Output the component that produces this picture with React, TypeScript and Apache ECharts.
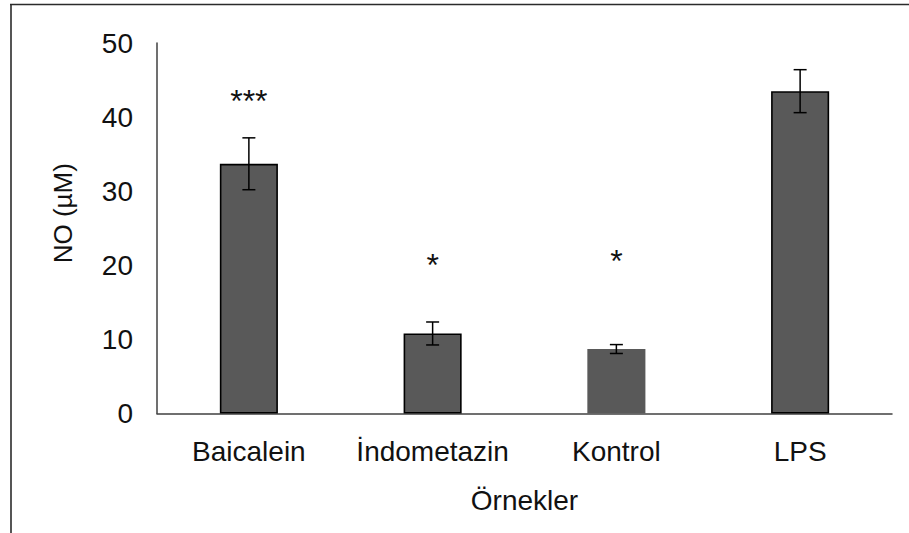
import React, { useEffect, useRef } from "react";
import * as echarts from "echarts";

const categories = ["Baicalein", "İndometazin", "Kontrol", "LPS"];
const means = [33.7, 10.8, 8.7, 43.5];
const errors = [3.5, 1.55, 0.6, 2.9];
const sigMarks = ["***", "*", "*", ""];
const sigLevels = [42.2, 20.0, 20.6, 0];
const yTicks = { min: 0, max: 50, interval: 10 };
const xAxisName = "Örnekler";
const yAxisName = "NO (µM)";
const unoutlinedCategory = "Kontrol";

const FONT = "Liberation Sans, Arial, sans-serif";

export default function App() {
  const ref = useRef<HTMLDivElement>(null);
  useEffect(() => {
    if (!ref.current) return;
    const chart = echarts.init(ref.current, undefined, { renderer: "svg" });
    const option: any = {
      animation: false,
      backgroundColor: "#ffffff",
      textStyle: { fontFamily: FONT },
      grid: { left: 157, right: 17, top: 43, bottom: 119.5, containLabel: false },
      graphic: [
        { type: "line", shape: { x1: 10, y1: 4.5, x2: 909, y2: 4.5 }, style: { stroke: "#2b2b2b", lineWidth: 1.6 } },
        { type: "line", shape: { x1: 11, y1: 4, x2: 11, y2: 533 }, style: { stroke: "#2b2b2b", lineWidth: 1.6 } },
      ],
      xAxis: {
        type: "category",
        data: categories,
        name: xAxisName,
        nameLocation: "middle",
        nameGap: 73,
        nameTextStyle: { fontSize: 28, color: "#111", fontFamily: FONT },
        axisLine: { lineStyle: { color: "#404040", width: 1.5 } },
        axisTick: { show: false },
        axisLabel: { fontSize: 28, color: "#111", margin: 24, interval: 0, fontFamily: FONT },
      },
      yAxis: {
        type: "value",
        min: yTicks.min,
        max: yTicks.max,
        interval: yTicks.interval,
        name: yAxisName,
        nameLocation: "middle",
        nameGap: 81,
        nameTextStyle: { fontSize: 26, color: "#111", fontFamily: FONT, padding: [0, 0, 0, 30] },
        axisLine: { show: true, lineStyle: { color: "#404040", width: 1.5 } },
        axisTick: { show: false },
        splitLine: { show: false },
        axisLabel: { fontSize: 28, color: "#111", margin: 24, fontFamily: FONT },
      },
      series: [
        {
          type: "bar",
          barWidth: "31.6%",
          data: means.map((v, i) => ({
            value: v,
            itemStyle: {
              color: "#595959",
              borderColor: "#000",
              borderWidth: categories[i] === unoutlinedCategory ? 0 : 1.6,
            },
          })),
        },
        {
          type: "custom",
          data: means.map((m, i) => [i, m - errors[i], m + errors[i]]),
          renderItem: (params: any, api: any) => {
            const x = api.value(0);
            const lo = api.coord([x, api.value(1)]);
            const hi = api.coord([x, api.value(2)]);
            const cap = 6.5;
            const style = { stroke: "#000", lineWidth: 1.5 };
            return {
              type: "group",
              children: [
                { type: "line", shape: { x1: hi[0], y1: hi[1], x2: lo[0], y2: lo[1] }, style },
                { type: "line", shape: { x1: hi[0] - cap, y1: hi[1], x2: hi[0] + cap, y2: hi[1] }, style },
                { type: "line", shape: { x1: lo[0] - cap, y1: lo[1], x2: lo[0] + cap, y2: lo[1] }, style },
              ],
            };
          },
          z: 5,
        },
        {
          type: "custom",
          data: sigLevels.map((y, i) => [i, y]),
          renderItem: (params: any, api: any) => {
            const idx = params.dataIndex;
            const p = api.coord([api.value(0), api.value(1)]);
            return {
              type: "text",
              x: p[0],
              y: p[1],
              style: {
                text: sigMarks[idx],
                fontSize: 32,
                fontFamily: FONT,
                fill: "#111",
                align: "center",
                verticalAlign: "middle",
              },
            };
          },
          z: 6,
        },
      ],
    };
    chart.setOption(option);
    return () => chart.dispose();
  }, []);
  return (
    <div
      ref={ref}
      style={{ position: "fixed", left: 0, top: 0, width: 909, height: 533 }}
    />
  );
}
